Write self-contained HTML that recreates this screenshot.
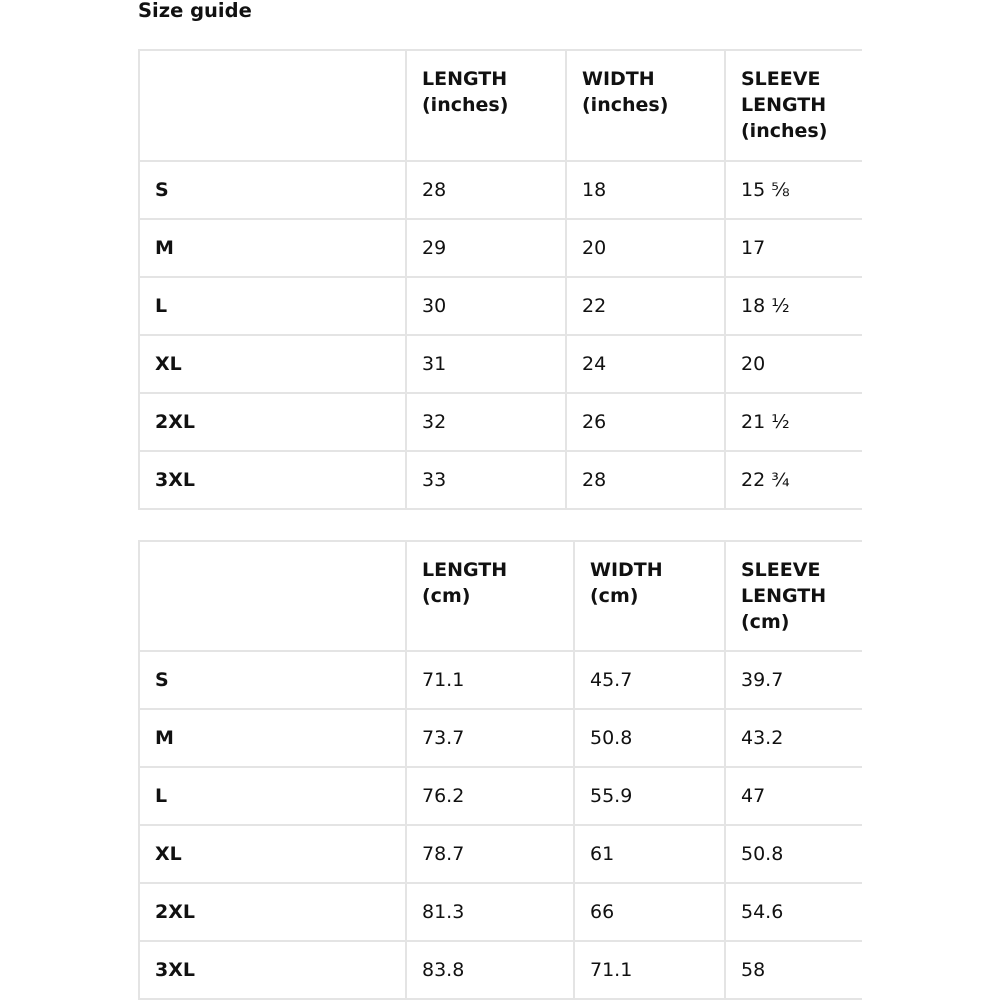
<!DOCTYPE html>
<html><head><meta charset="utf-8"><style>
body{margin:0;width:1000px;height:1000px;background:#fff;position:relative;overflow:hidden;font-family:"DejaVu Sans","Liberation Sans",sans-serif;color:#111}
.h{position:absolute;height:2px;background:#e4e4e4}
.v{position:absolute;width:2px;background:#e4e4e4}
.t{position:absolute;font-size:19px;line-height:26px;white-space:nowrap}
.b{font-weight:bold}
</style></head><body>
<div class="t b" style="left:138px;top:-2px;font-size:19.5px">Size guide</div>
<div id="a"></div>
<script>
function table(top,hb,cols,heads,rows){
 let o='';
 const L=138,R=862;
 o+=`<div class="h" style="left:${L}px;width:${R-L}px;top:${top}px"></div>`;
 const ys=[hb];for(let i=1;i<=6;i++)ys.push(hb+58*i);
 ys.forEach(y=>o+=`<div class="h" style="left:${L}px;width:${R-L}px;top:${y}px"></div>`);
 const bot=ys[6];
 [L].concat(cols).forEach(x=>o+=`<div class="v" style="left:${x}px;top:${top}px;height:${bot-top+2}px"></div>`);
 heads.forEach((h,i)=>o+=`<div class="t b" style="left:${cols[i]+17}px;top:${top+17}px">${h}</div>`);
 rows.forEach((r,j)=>{const y=ys[j]+17;
  o+=`<div class="t b" style="left:155px;top:${y}px">${r[0]}</div>`;
  for(let k=1;k<4;k++)o+=`<div class="t" style="left:${cols[k-1]+17}px;top:${y}px">${r[k]}</div>`;});
 return o;}
const sz=['S','M','L','XL','2XL','3XL'];
document.getElementById('a').innerHTML=
 table(49,160,[405,565,724],['LENGTH<br>(inches)','WIDTH<br>(inches)','SLEEVE<br>LENGTH<br>(inches)'],
 [['28','18','15 ⅝'],['29','20','17'],['30','22','18 ½'],['31','24','20'],['32','26','21 ½'],['33','28','22 ¾']].map((r,i)=>[sz[i]].concat(r)))+
 table(540,650,[405,573,724],['LENGTH<br>(cm)','WIDTH<br>(cm)','SLEEVE<br>LENGTH<br>(cm)'],
 [['71.1','45.7','39.7'],['73.7','50.8','43.2'],['76.2','55.9','47'],['78.7','61','50.8'],['81.3','66','54.6'],['83.8','71.1','58']].map((r,i)=>[sz[i]].concat(r)));
</script>
</body></html>
